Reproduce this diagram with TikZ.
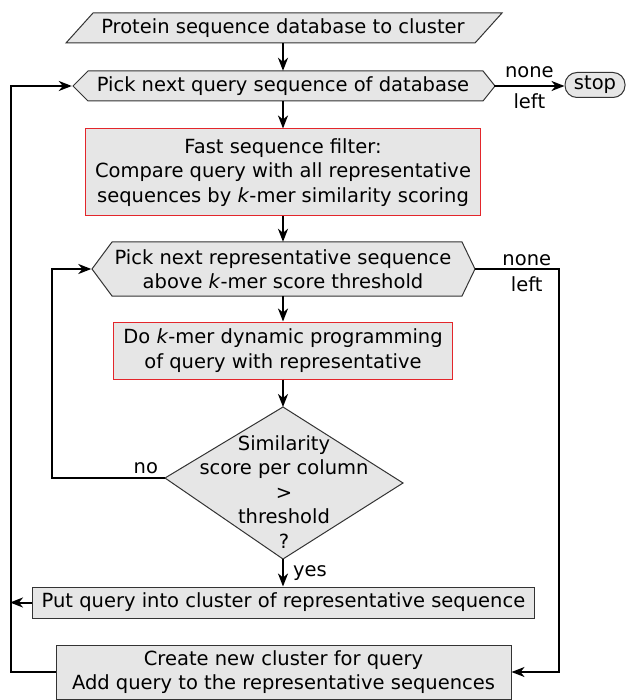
\documentclass[tikz,border=0pt]{standalone}
\usepackage{fontspec}
\setmainfont{DejaVu Sans}
\usetikzlibrary{arrows.meta}
\definecolor{boxfill}{HTML}{E6E6E6}
\definecolor{boxline}{HTML}{333333}
\definecolor{redline}{HTML}{E3262B}
\tikzset{
  every node/.style={font=\fontsize{19.5}{24.5}\selectfont, text=black},
  box/.style={draw=boxline, fill=boxfill, line width=1pt, inner sep=0pt, align=center},
  redbox/.style={box, draw=redline},
  area/.style={inner sep=0pt, align=center},
  outline/.style={draw=boxline, fill=boxfill, line width=1pt, line join=miter},
  link/.style={line width=2pt},
  flow/.style={link, -{Stealth[length=13pt,width=10pt,inset=4pt]}},
  lbl/.style={inner sep=0pt},
}
\begin{document}
\begin{tikzpicture}[x=1pt, y=-1pt]
\useasboundingbox (0,0) rectangle (627,700);

% input data (parallelogram)
\draw[outline] (93,13) -- (502,13) -- (475,43) -- (66,43) -- cycle;
\node[area, minimum width=436pt, minimum height=30pt] (db) at (283,28)
  {Protein sequence database to cluster};

% loop over queries (hexagon)
\draw[outline] (73,86) -- (88,71) -- (483,71) -- (495,86) -- (483,101) -- (88,101) -- cycle;
\node[area, minimum width=422pt, minimum height=30pt] (pickq) at (283,86)
  {Pick next query sequence of database};

\node[box, rounded corners=12pt, minimum width=60pt, minimum height=25pt] (stop) at (595,85) {stop};

% prefilter
\node[redbox, minimum width=395pt, minimum height=87pt] (filter) at (283,172.5)
  {Fast sequence filter:\\Compare query with all representative\\sequences by \textit{k}-mer similarity scoring};

% loop over representatives (hexagon)
\draw[outline] (92,269) -- (112,242) -- (462,242) -- (475,269) -- (462,296) -- (112,296) -- cycle;
\node[area, minimum width=383pt, minimum height=54pt] (pickr) at (283,269)
  {Pick next representative sequence\\above \textit{k}-mer score threshold};

% alignment
\node[redbox, minimum width=339pt, minimum height=57pt] (dp) at (283,350.5)
  {Do \textit{k}-mer dynamic programming\\of query with representative};

% decision (diamond)
\coordinate (dectop) at (283,407);
\coordinate (decright) at (403,483);
\coordinate (decbottom) at (283,559);
\coordinate (decleft) at (165,478);
\draw[outline] (dectop) -- (decright) -- (decbottom) -- (decleft) -- cycle;
\node[area] (dec) at (284,492)
  {Similarity\\score per column\\{>}\\threshold\\?};

% outcomes
\node[box, minimum width=502pt, minimum height=31pt] (put) at (283.5,602.5)
  {Put query into cluster of representative sequence};
\node[box, minimum width=455pt, minimum height=54pt] (create) at (283.5,672)
  {Create new cluster for query\\Add query to the representative sequences};

% connectors
\draw[flow] (db.south) -- (db.south |- pickq.north);
\draw[flow] (pickq.east) -- (pickq.east -| stop.west)
  node[lbl, midway, above=7pt] {none}
  node[lbl, midway, below=7pt] {left};
\draw[flow] (pickq.south) -- (filter.north);
\draw[flow] (filter.south) -- (pickr.north);
\draw[flow] (pickr.south) -- (dp.north);
\draw[flow] (dp.south) -- (dectop);
\draw[flow] (decleft) -- node[lbl, pos=0.17, above=3pt] {no} ++(-113,0) |- (pickr.west);
\draw[flow] (decbottom) -- node[lbl, anchor=base west, xshift=9pt, yshift=-4pt] {yes} (decbottom |- put.north);
\draw[flow] (pickr.east) -- node[lbl, pos=0.62, above=2pt] {none} node[lbl, pos=0.62, below=7pt] {left}
  ++(84,0) |- (create.east);
\draw[flow] (create.west) -- ++(-45,0) |- (pickq.west);
\draw[flow] (put.west) -- ++(-22,0);
\end{tikzpicture}
\end{document}
